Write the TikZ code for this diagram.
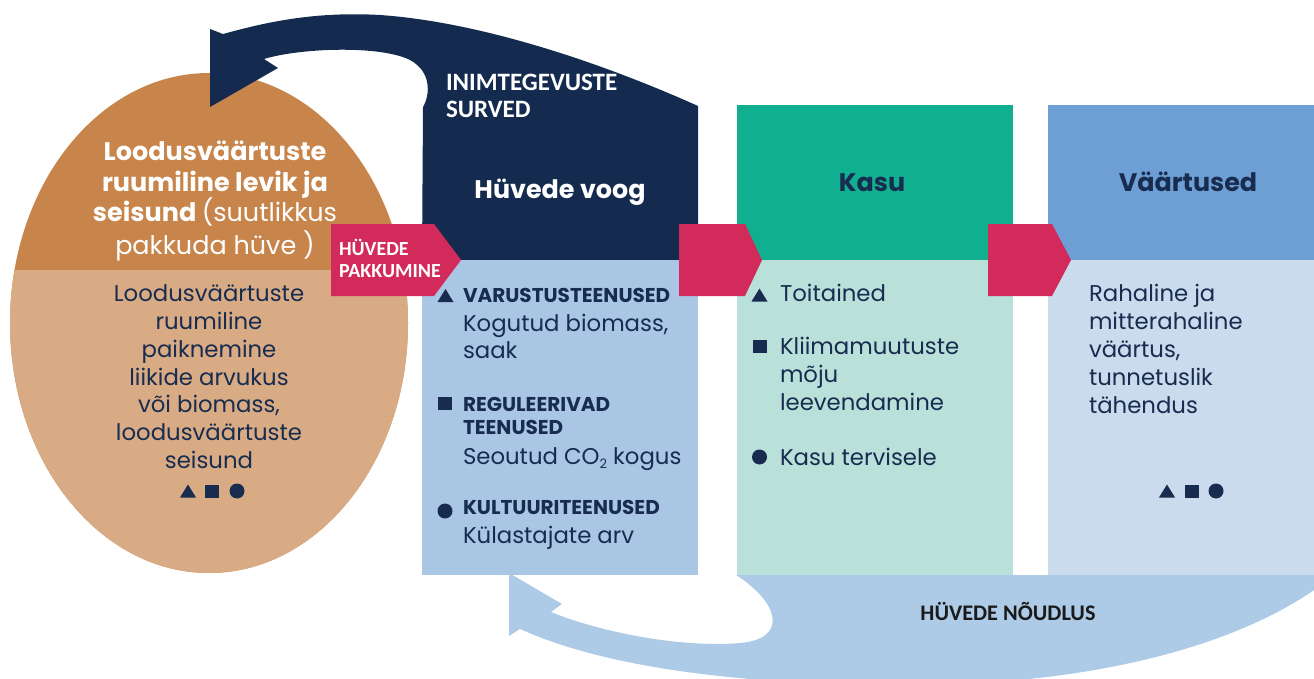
\documentclass[tikz,border=0pt]{standalone}
\usepackage{fontspec}
\setmainfont{Poppins}
\newfontfamily\condfont{Carlito}
\definecolor{navyC}{HTML}{142B4F}
\definecolor{txt}{HTML}{172C4F}
\definecolor{ochre}{HTML}{C8854B}
\definecolor{sand}{HTML}{D9AB85}
\definecolor{rosered}{HTML}{D22A5A}
\definecolor{skyA}{HTML}{A9C7E4}
\definecolor{skyB}{HTML}{ADCBE6}
\definecolor{tealA}{HTML}{10AF8F}
\definecolor{mintA}{HTML}{B9E1DA}
\definecolor{steelA}{HTML}{6E9FD4}
\definecolor{paleA}{HTML}{C9DBEC}
\definecolor{inkA}{HTML}{1A1A1A}
\begin{document}
\begin{tikzpicture}[x=1pt,y=-1pt,
  every node/.style={inner sep=0pt, outer sep=0pt},
  bodytxt/.style={font=\fontsize{22.8}{26}\selectfont, text=txt, anchor=base west},
  bodymid/.style={font=\fontsize{22.8}{26}\selectfont, text=txt, anchor=base},
  capshead/.style={font=\fontsize{20}{23}\selectfont\bfseries, text=txt, anchor=base west},
  boxtitle/.style={font=\fontsize{25.4}{30}\selectfont\bfseries, anchor=base},
  ovaltitle/.style={font=\fontsize{25.5}{30}\selectfont\bfseries, text=white, anchor=base},
  condwhite/.style={font=\condfont\bfseries\fontsize{25}{28}\selectfont, text=white, anchor=base west},
  tri/.pic={\fill[txt] (-8,6.5) -- (8,6.5) -- (0,-6.5) -- cycle;},
  sqr/.pic={\fill[txt] (-7,-6.5) rectangle (7,6.5);},
  dotc/.pic={\fill[txt] (0,0) circle[radius=7.5];}
]
\useasboundingbox (0,0) rectangle (1314,679);
\clip (0,0) rectangle (1314,679);

% --- oval: spatial distribution of natural assets
\fill[ochre] (209,323) ellipse [x radius=199, y radius=250];
\begin{scope}
  \clip (0,270) rectangle (420,700);
  \fill[sand] (209,323) ellipse [x radius=199, y radius=250];
\end{scope}

% --- lower return arrow (demand)
\fill[skyB] (736,575) -- (1340,575) -- (1340,570)
  .. controls (1260,640) and (1100,690) .. (870,685)
  .. controls (720,682) and (600,665) .. (520,629)
  -- (509,636) -- (509,573) -- (562,604) -- (551,612)
  .. controls (600,632) and (680,648) .. (740,643)
  .. controls (788,639) and (780,603) .. (736,575) -- cycle;

% --- flow box with the upper pressure arrow
\fill[navyC] (422,260) -- (698,260) -- (698,106)
  .. controls (600,62) and (480,22) .. (380,15)
  .. controls (310,11) and (260,24) .. (223,34)
  -- (210,29) -- (210,107) -- (278,68) -- (264,59)
  .. controls (300,48) and (380,45) .. (410,60)
  .. controls (432,72) and (430,95) .. (423,107)
  -- (422,260) -- cycle;
\fill[skyA] (422,260) rectangle (698,575);

% --- benefit and value boxes
\fill[tealA] (737,105) rectangle (1013,260);
\fill[mintA] (737,260) rectangle (1013,575);
\fill[steelA] (1048,105) rectangle (1314,260);
\fill[paleA] (1048,260) rectangle (1314,575);

% --- red chevrons between the stages
\fill[rosered] (331,224) -- (434,224) -- (461,260) -- (434,296) -- (331,296) -- cycle;
\fill[rosered] (679,224) -- (745,224) -- (762,260) -- (745,296) -- (679,296) -- cycle;
\fill[rosered] (988,224) -- (1052,224) -- (1071,260) -- (1052,296) -- (988,296) -- cycle;

% --- oval texts
\node[ovaltitle] (ov1) at (215,161) {Loodusväärtuste};
\node[ovaltitle] (ov2) at (215,192) {ruumiline levik ja};
\node[ovaltitle] (ov3) at (215,222) {seisund {\mdseries(suutlikkus}};
\node[ovaltitle] (ov4) at (215,254) {\mdseries pakkuda hüve )};
\node[bodymid] (ol1) at (209,301) {Loodusväärtuste};
\node[bodymid] (ol2) at (209,329) {ruumiline};
\node[bodymid] (ol3) at (209,357) {paiknemine};
\node[bodymid] (ol4) at (209,385) {liikide arvukus};
\node[bodymid] (ol5) at (209,412) {või biomass,};
\node[bodymid] (ol6) at (209,440) {loodusväärtuste};
\node[bodymid] (ol7) at (209,468) {seisund};
\pic at (188,491) {tri};
\pic at (212,491) {sqr};
\pic at (237,491) {dotc};

% --- labels on arrows and chevrons
\node[condwhite] (pr1) at (446,91) {INIMTEGEVUSTE};
\node[condwhite] (pr2) at (446,118) {SURVED};
\node[condwhite, font=\condfont\bfseries\fontsize{20}{22}\selectfont] (sp1) at (339,255) {HÜVEDE};
\node[condwhite, font=\condfont\bfseries\fontsize{20}{22}\selectfont] (sp2) at (339,277) {PAKKUMINE};
\node[font=\condfont\bfseries\fontsize{22.3}{26}\selectfont, text=inkA, anchor=base] (dm) at (1008,620) {HÜVEDE NÕUDLUS};

% --- flow of benefits
\node[boxtitle, text=white] (flowT) at (560,199) {Hüvede voog};
\pic at (445.5,295.5) {tri};
\node[capshead] (s1) at (463,302) {VARUSTUSTEENUSED};
\node[bodytxt] (s1a) at (463,331) {Kogutud biomass,};
\node[bodytxt] (s1b) at (463,358) {saak};
\pic at (445,403.5) {sqr};
\node[capshead] (s2) at (463,411) {REGULEERIVAD};
\node[capshead] (s2b) at (463,434) {TEENUSED};
\node[bodytxt] (s2a) at (463,464) {Seoutud CO\raisebox{-0.35ex}{\fontsize{13}{13}\selectfont 2} kogus};
\pic at (445,511) {dotc};
\node[capshead] (s3) at (463,514) {KULTUURITEENUSED};
\node[bodytxt] (s3a) at (463,543) {Külastajate arv};

% --- benefits
\node[boxtitle, text=txt] (benT) at (872,192) {Kasu};
\pic at (759.5,295) {tri};
\node[bodytxt] (b1) at (780,301) {Toitained};
\pic at (759.5,346) {sqr};
\node[bodytxt] (b2) at (780,354) {Kliimamuutuste};
\node[bodytxt] (b2a) at (780,382) {mõju};
\node[bodytxt] (b2b) at (780,410) {leevendamine};
\pic at (759.5,457) {dotc};
\node[bodytxt] (b3) at (780,465) {Kasu tervisele};

% --- values
\node[boxtitle, text=txt] (valT) at (1188,192) {Väärtused};
\node[bodytxt] (v1) at (1089,301) {Rahaline ja};
\node[bodytxt] (v2) at (1089,329) {mitterahaline};
\node[bodytxt] (v3) at (1089,357) {väärtus,};
\node[bodytxt] (v4) at (1089,385) {tunnetuslik};
\node[bodytxt] (v5) at (1089,413) {tähendus};
\pic at (1167,491) {tri};
\pic at (1192,491) {sqr};
\pic at (1216,491) {dotc};
\end{tikzpicture}
\end{document}
